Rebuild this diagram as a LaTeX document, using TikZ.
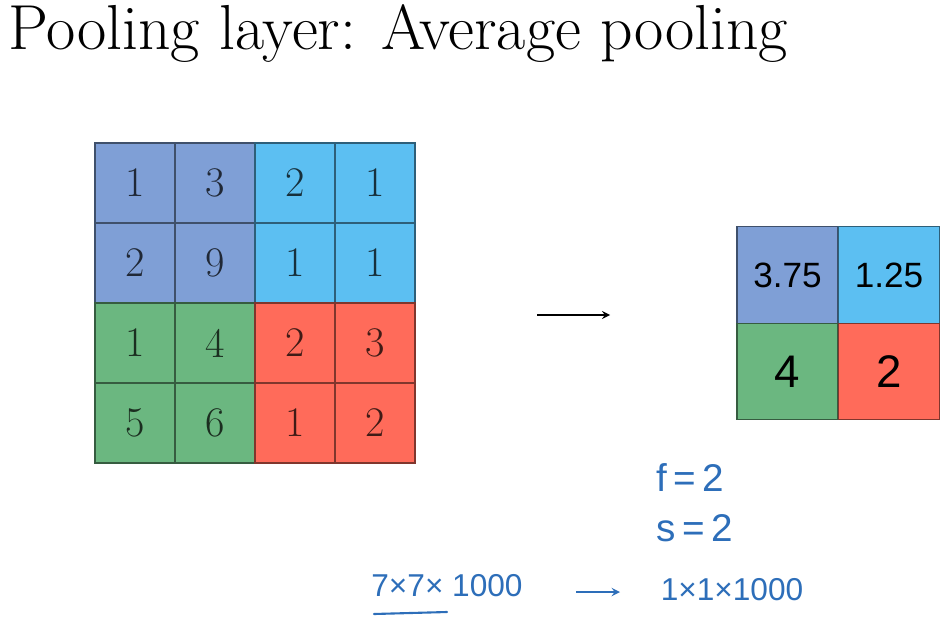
\documentclass[tikz,border=0pt]{standalone}
\usepackage{fontspec}
\usepackage{xcolor}
\usepackage{tikz}
\usetikzlibrary{calc, positioning}
\newfontfamily\handfont{Liberation Sans}

\definecolor{cellblue}{RGB}{127,159,214}
\definecolor{cellcyan}{RGB}{92,191,242}
\definecolor{cellgreen}{RGB}{107,183,128}
\definecolor{cellred}{RGB}{255,107,90}
\definecolor{inkblue}{RGB}{45,110,185}

\tikzset{
    cell/.style={draw=#1!50!black, fill=#1, text=#1!25!black, line width=0.7pt,
        minimum width=1.6cm, minimum height=1.6cm, inner sep=0pt,
        font=\fontsize{24}{24}\selectfont},
    outcell/.style={draw=#1!50!black, fill=#1, text=black, line width=0.7pt,
        minimum width=2.02cm, minimum height=1.93cm, inner sep=0pt,
        font=\handfont\fontsize{20}{20}\selectfont},
    ink/.style={text=inkblue, font=\handfont\fontsize{#1}{#1}\selectfont},
}

\begin{document}
\begin{tikzpicture}[>=stealth, x=0.02cm, y=-0.02cm]
            \useasboundingbox (0,0) rectangle (952,625);

            % Tiêu đề
            \node[anchor=base west, inner sep=0pt, font=\fontsize{36.2}{40}\selectfont] (title) at (8,50) {Pooling layer: Average pooling};

            % Ma trận đầu vào 4x4
            \foreach \col/\row/\v/\c in {0/0/1/cellblue, 1/0/3/cellblue, 2/0/2/cellcyan, 3/0/1/cellcyan,
                                         0/1/2/cellblue, 1/1/9/cellblue, 2/1/1/cellcyan, 3/1/1/cellcyan,
                                         0/2/1/cellgreen, 1/2/4/cellgreen, 2/2/2/cellred, 3/2/3/cellred,
                                         0/3/5/cellgreen, 1/3/6/cellgreen, 2/3/1/cellred, 3/3/2/cellred}
                \node[cell=\c] (in-\row-\col) at ({135+80*\col}, {183+80*\row}) {\v};

            % Ma trận đầu ra 2x2
            \node[outcell=cellblue]  (out-0-0) at (787.5, 275) {3.75};
            \node[outcell=cellcyan]  (out-0-1) at (889, 275) {1.25};
            \node[outcell=cellgreen, font=\handfont\fontsize{26}{26}\selectfont] (out-1-0) at (787.5, 371.5) {4};
            \node[outcell=cellred, font=\handfont\fontsize{26}{26}\selectfont]   (out-1-1) at (889, 371.5) {2};

            % Mũi tên giữa hai ma trận
            \coordinate (arrowS) at (537, 315);
            \coordinate (arrowE) at (610, 315);
            \draw[->, line width=1pt] (arrowS) -- (arrowE);

            % Các ghi chú viết tay
            \node[ink=22] (fval) at (690, 478) {f\,=\,2};
            \node[ink=22] (sval) at (695, 528) {s\,=\,2};
            \node[ink=18] (insize) at (447, 586) {7×7× 1000};
            \node[ink=18] (outsize) at (732, 590) {1×1×1000};

            % Gạch chân và mũi tên viết tay
            \coordinate (ulS) at (374, 614);
            \coordinate (ulE) at (447, 612);
            \draw[inkblue, line width=1.2pt, line cap=round] (ulS) -- (ulE);
            \coordinate (hArrowS) at (576, 592);
            \coordinate (hArrowE) at (620, 592);
            \draw[->, inkblue, line width=1.1pt] (hArrowS) -- (hArrowE);
        \end{tikzpicture}
\end{document}
